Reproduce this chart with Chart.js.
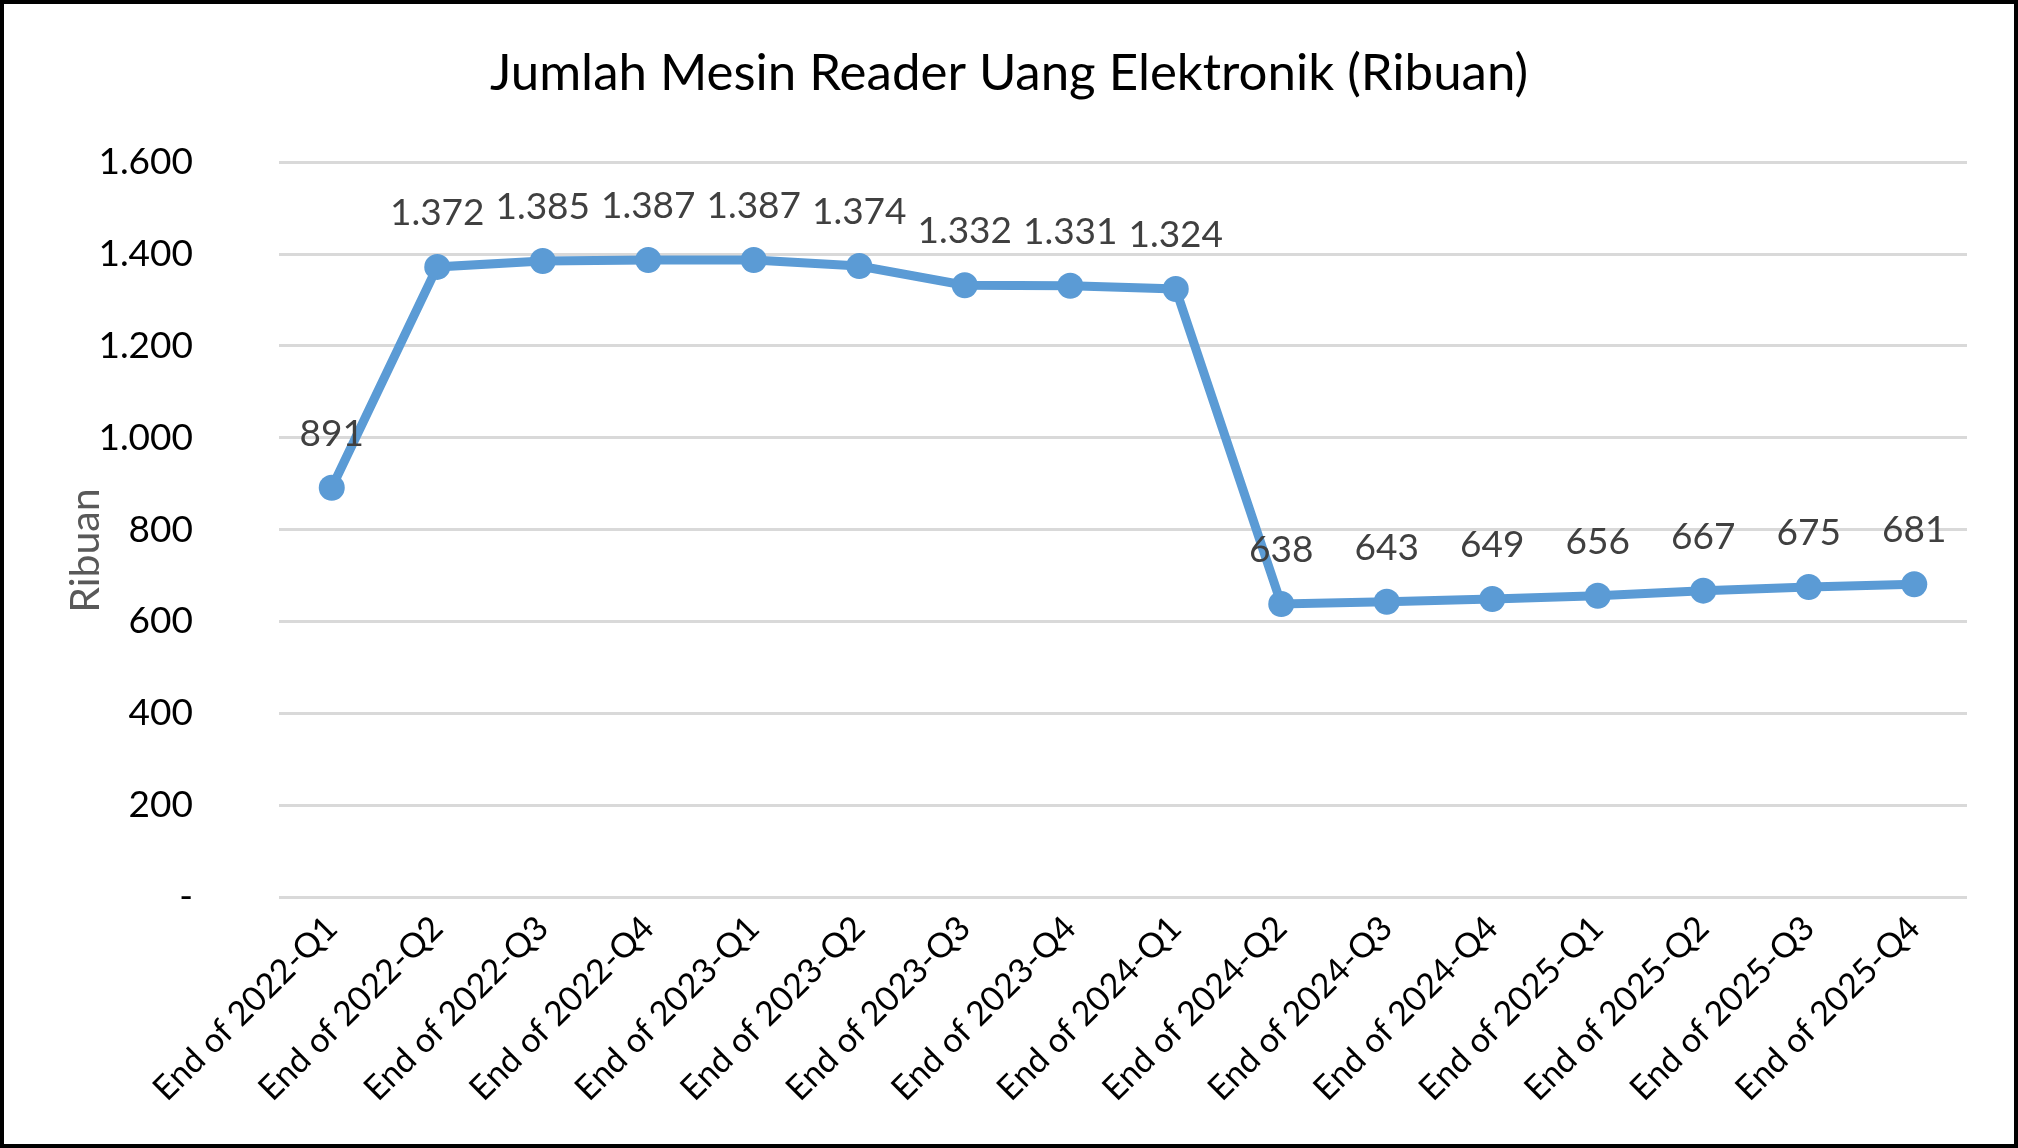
<!DOCTYPE html>
<html>
<head>
<meta charset="utf-8">
<title>Jumlah Mesin Reader Uang Elektronik</title>
<script src="https://cdn.jsdelivr.net/npm/chart.js@4.4.1/dist/chart.umd.min.js"></script>
<style>
  html, body { margin: 0; padding: 0; background: #fff; }
  canvas { display: block; }
</style>
</head>
<body>
<canvas id="readerChart" width="2018" height="1148"></canvas>
<script>
// Quarters on the x axis
const quarters = [
    'End of 2022-Q1', 'End of 2022-Q2', 'End of 2022-Q3', 'End of 2022-Q4',
    'End of 2023-Q1', 'End of 2023-Q2', 'End of 2023-Q3', 'End of 2023-Q4',
    'End of 2024-Q1', 'End of 2024-Q2', 'End of 2024-Q3', 'End of 2024-Q4',
    'End of 2025-Q1', 'End of 2025-Q2', 'End of 2025-Q3', 'End of 2025-Q4'
];

// Number of reader machines (thousands)
const readerCounts = [891, 1372, 1385, 1387, 1387, 1374, 1332, 1331, 1324, 638, 643, 649, 656, 667, 675, 681];

// Y axis labels, from 0 up to 1.600 in steps of 200
const yTickLabels = ['-', '200', '400', '600', '800', '1.000', '1.200', '1.400', '1.600'];

Chart.defaults.font.family = 'Lato, "Open Sans", sans-serif';

// Indonesian style thousands separator
function formatNumber(value) {
    return String(value).replace(/\B(?=(\d{3})+(?!\d))/g, '.');
}

// White background and black frame round the whole picture
const frame = {
    id: 'frame',
    beforeDraw(chart) {
        const ctx = chart.ctx;
        ctx.save();
        ctx.fillStyle = '#ffffff';
        ctx.fillRect(0, 0, chart.width, chart.height);
        ctx.restore();
    },
    afterDraw(chart) {
        const ctx = chart.ctx;
        ctx.save();
        ctx.strokeStyle = '#000000';
        ctx.lineWidth = 4;
        ctx.strokeRect(2, 2, chart.width - 4, chart.height - 4);
        ctx.restore();
    }
};

// Value labels above each point
const pointLabels = {
    id: 'pointLabels',
    afterDatasetsDraw(chart) {
        const ctx = chart.ctx;
        const meta = chart.getDatasetMeta(0);
        ctx.save();
        ctx.font = '37px Lato, "Open Sans", sans-serif';
        ctx.fillStyle = '#404040';
        ctx.textAlign = 'center';
        ctx.textBaseline = 'alphabetic';
        meta.data.forEach((point, i) => {
            ctx.fillText(formatNumber(readerCounts[i]), point.x, point.y - 42);
        });
        ctx.restore();
    }
};

new Chart(document.getElementById('readerChart').getContext('2d'), {
    type: 'line',
    data: {
        labels: quarters,
        datasets: [{
            label: 'Ribuan',
            data: readerCounts,
            borderColor: '#5b9bd5',
            backgroundColor: '#5b9bd5',
            borderWidth: 9,
            pointRadius: 13,
            pointBackgroundColor: '#5b9bd5',
            pointBorderWidth: 0,
            tension: 0,
            fill: false
        }]
    },
    options: {
        responsive: false,
        animation: false,
        layout: {
            // same padding on both sides so the title sits in the middle
            padding: { left: 51, right: 51, top: 0, bottom: 0 }
        },
        plugins: {
            legend: { display: false },
            tooltip: { enabled: false },
            title: {
                display: true,
                text: 'Jumlah Mesin Reader Uang Elektronik (Ribuan)',
                color: '#000000',
                font: { size: 51, weight: 'normal' },
                padding: { top: 43, bottom: 58 }
            }
        },
        scales: {
            x: {
                offset: true,
                grid: { display: false },
                border: { display: false },
                ticks: {
                    color: '#000000',
                    font: { size: 34 },
                    autoSkip: false,
                    minRotation: 45,
                    maxRotation: 45,
                    padding: 3,
                    labelOffset: 0
                },
                afterFit(scale) {
                    scale.height = 251;
                }
            },
            y: {
                min: 0,
                max: 1600,
                grid: { color: '#d9d9d9', lineWidth: 3, drawTicks: false },
                border: { display: false },
                ticks: {
                    stepSize: 200,
                    color: '#000000',
                    font: { size: 37 },
                    padding: 86,
                    callback: (value) => yTickLabels[value / 200]
                },
                title: {
                    display: true,
                    text: 'Ribuan    ',
                    color: '#595959',
                    font: { size: 41 },
                    padding: { top: 10, bottom: 0 }
                },
                afterFit(scale) {
                    scale.width = 228;
                }
            }
        }
    },
    plugins: [frame, pointLabels]
});
</script>
</body>
</html>
